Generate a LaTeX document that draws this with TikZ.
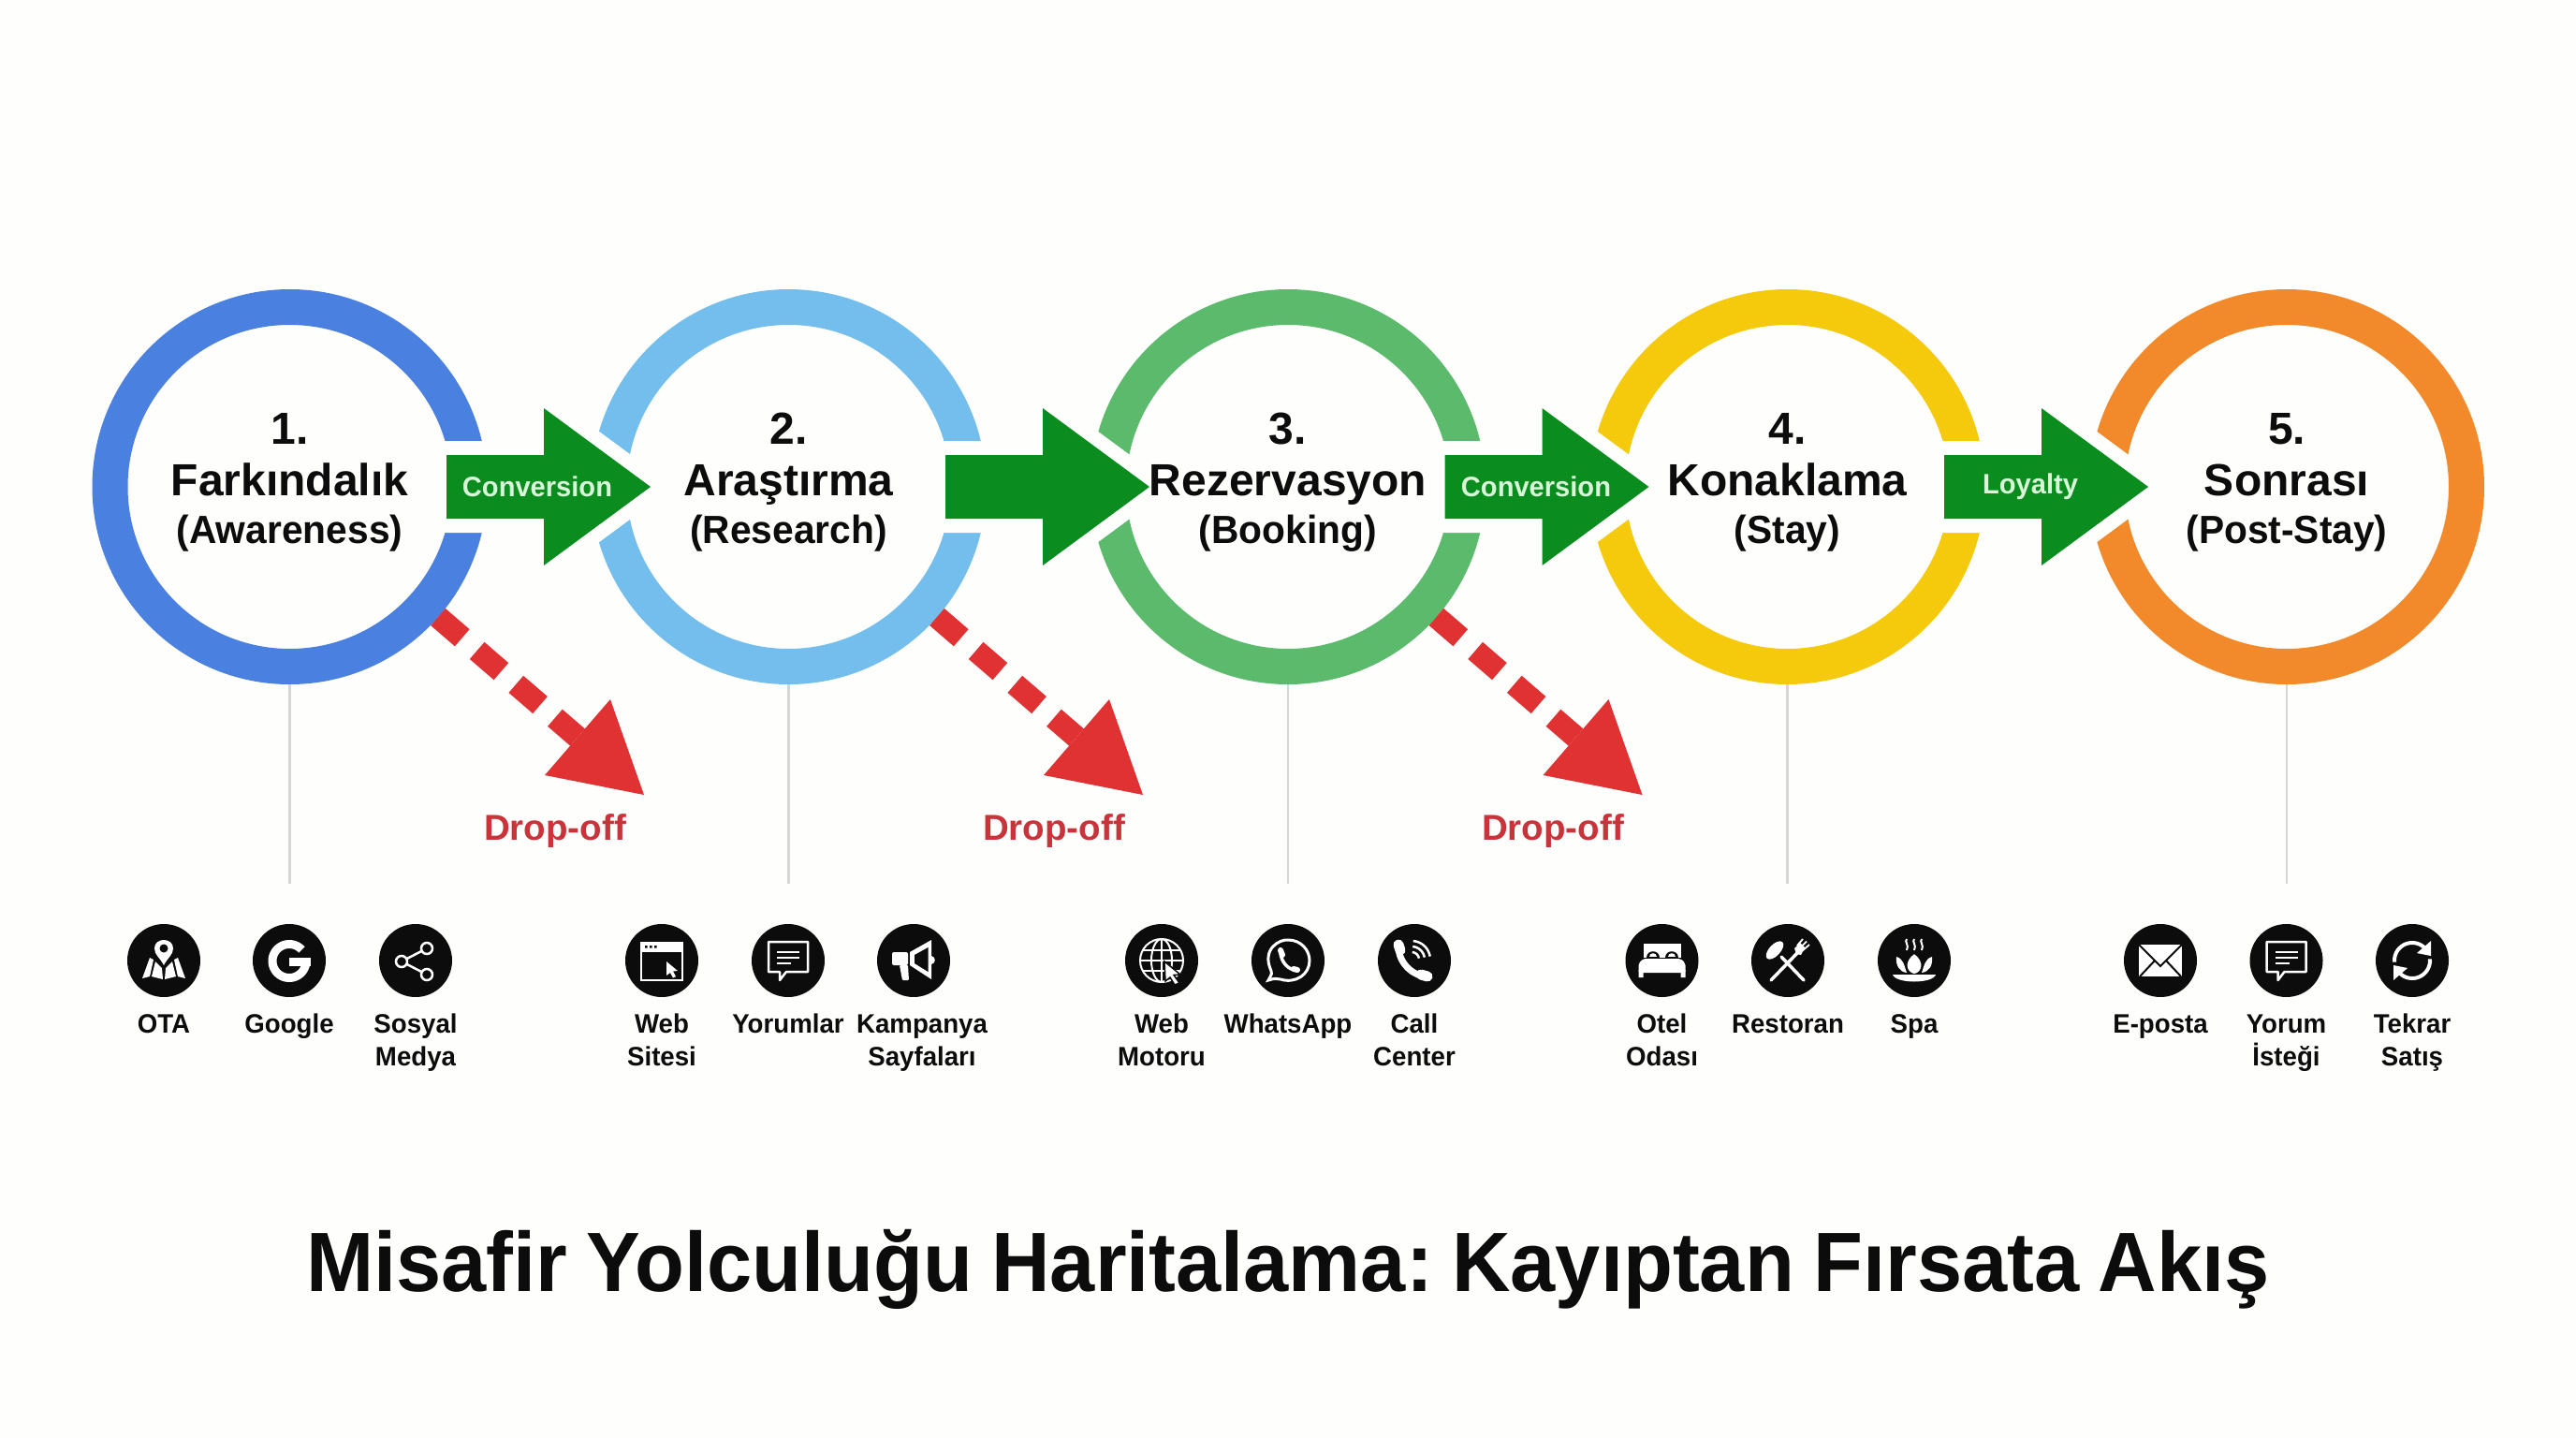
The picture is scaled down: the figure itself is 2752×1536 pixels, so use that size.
\documentclass[tikz,border=0pt]{standalone}
\usepackage{fontspec}
\setmainfont{Liberation Sans}
\newfontfamily\medf[FakeStretch=0.97]{Liberation Sans Bold}
\newfontfamily\titlef[FakeStretch=0.962,WordSpace=0.85]{Liberation Sans Bold}
\usetikzlibrary{calc}
\frenchspacing
\definecolor{pagebg}{HTML}{FEFEFD}
\definecolor{cA}{HTML}{4A80E0}
\definecolor{cB}{HTML}{73BEEC}
\definecolor{cC}{HTML}{5CBA6C}
\definecolor{cD}{HTML}{F5C90C}
\definecolor{cE}{HTML}{F28A2C}
\definecolor{arrowgreen}{HTML}{0A8C1E}
\definecolor{lossred}{HTML}{E03232}
\definecolor{losstext}{HTML}{C8343A}
\definecolor{lightlab}{HTML}{D8F6D8}
\definecolor{stem}{HTML}{D6D6D6}
\definecolor{ink}{HTML}{0C0C0C}
\tikzset{
  ring/.style={circle,draw=#1,line width=38pt,minimum size=384pt,inner sep=0pt,outer sep=0pt},
  stagetext/.style={align=center,inner sep=0pt,anchor=north,text=ink,font=\bfseries\fontsize{48}{55}\selectfont},
  fatarrow/.style={fill=arrowgreen,draw=pagebg,line width=30pt,line join=round},
  fatfill/.style={fill=arrowgreen},
  arrowlab/.style={inner sep=0pt,text=lightlab,font=\medf\fontsize{30}{34}\selectfont},
  stemline/.style={draw=stem,line width=2.5pt},
  lossline/.style={draw=lossred,line width=24pt,dash pattern=on 34pt off 21pt},
  losshead/.style={fill=lossred},
  losslab/.style={inner sep=0pt,anchor=base,text=losstext,font=\bfseries\fontsize{38.5}{42}\selectfont},
  iconbg/.style={circle,fill=ink,minimum size=78pt,inner sep=0pt,outer sep=0pt},
  iconlab/.style={align=center,inner sep=0pt,anchor=north,text=ink,font=\medf\fontsize{28.5}{35}\selectfont},
  ic/.style={draw=white,line width=2.5pt},
  icf/.style={fill=white},
  titletext/.style={inner sep=0pt,anchor=base,text=ink,font=\titlef\fontsize{90}{100}\selectfont}
}
\newcommand{\stagesub}[1]{{\medf\fontsize{42}{55}\selectfont #1}}
\newcommand{\iconat}[5][]{%
  \node[iconbg] (#2) at (#3,1026) {};
  \begin{scope}[shift={(#2.center)}] #5 \end{scope}
  \node[iconlab,#1] (#2t) at (#3,1078.5) {\strut #4};
}
\newcommand{\chaticon}{%
  \draw[ic,line join=round] (-21,-20) -- (21,-20) -- (21,12) -- (-2,12) -- (-9,21) -- (-9,12) -- (-21,12) -- cycle;
  \draw[ic] (-12,-9) -- (12,-9) (-12,-3) -- (12,-3) (-12,3) -- (3,3);
}
\newcommand{\cutband}[1]{\fill[pagebg] ([shift={(100pt,47pt)}]#1.center) rectangle ([shift={(222pt,-49pt)}]#1.center);}
\newcommand{\arrowshape}[1]{([shift={(167.5pt,34pt)}]#1.center) -- ([shift={(271.5pt,34pt)}]#1.center) -- ([shift={(271.5pt,84pt)}]#1.center) -- ([shift={(385.5pt,0pt)}]#1.center) -- ([shift={(271.5pt,-84pt)}]#1.center) -- ([shift={(271.5pt,-34pt)}]#1.center) -- ([shift={(167.5pt,-34pt)}]#1.center) -- cycle}
\newcommand{\greenarrow}[1]{\path[fatarrow] \arrowshape{#1};\fill[fatfill] \arrowshape{#1};}
\newcommand{\lossarrow}[2]{%
  \coordinate (ls#2) at ([shift={(158.5pt,-139pt)}]#1.center);
  \coordinate (le#2) at ([shift={(307.5pt,-267.5pt)}]#1.center);
  \coordinate (lt#2) at ([shift={(378.5pt,-329pt)}]#1.center);
  \draw[lossline] (ls#2) -- (le#2);
  \fill[losshead] (lt#2) -- ([shift={(342.5pt,-227pt)}]#1.center) -- ([shift={(272.5pt,-308pt)}]#1.center) -- cycle;
}
\begin{document}
\begin{tikzpicture}[x=1pt,y=-1pt]
\useasboundingbox (0,0) rectangle (2752,1536);
\fill[pagebg] (0,0) rectangle (2752,1536);

\node[ring=cA] (s1) at (309.5,520) {};
\node[ring=cB] (s2) at (842.5,520) {};
\node[ring=cC] (s3) at (1376,520) {};
\node[ring=cD] (s4) at (1909.5,520) {};
\node[ring=cE] (s5) at (2443,520) {};

\cutband{s1}\cutband{s2}\cutband{s3}\cutband{s4}
\greenarrow{s1}\greenarrow{s2}\greenarrow{s3}\greenarrow{s4}
\node[arrowlab] (a1) at (574,520) {Conversion};
\node[arrowlab] (a3) at (1641,520) {Conversion};
\node[arrowlab] (a4) at (2169,520) {Loyalty};

\node[stagetext] (t1) at (309.5,435.5) {\strut 1.\\Farkındalık\\[-4pt]\stagesub{(Awareness)}};
\node[stagetext] (t2) at (842.5,435.5) {\strut 2.\\Araştırma\\[-4pt]\stagesub{(Research)}};
\node[stagetext] (t3) at (1376,435.5) {\strut 3.\\Rezervasyon\\[-4pt]\stagesub{(Booking)}};
\node[stagetext] (t4) at (1909.5,435.5) {\strut 4.\\Konaklama\\[-4pt]\stagesub{(Stay)}};
\node[stagetext] (t5) at (2443,435.5) {\strut 5.\\Sonrası\\[-4pt]\stagesub{(Post-Stay)}};

\lossarrow{s1}{1}\lossarrow{s2}{2}\lossarrow{s3}{3}
\node[losslab] (d1) at (593,897) {Drop-off};
\node[losslab] (d2) at (1126,897) {Drop-off};
\node[losslab] (d3) at (1659,897) {Drop-off};

\coordinate (v1) at (309.5,944);
\coordinate (v2) at (842.5,944);
\coordinate (v3) at (1376,944);
\coordinate (v4) at (1909.5,944);
\coordinate (v5) at (2443,944);
\foreach \n in {1,2,3,4,5}{\draw[stemline] ([yshift=-211pt]s\n.center) -- (v\n);}

% --- group 1
\iconat{ota}{175}{OTA}{%
  \fill[icf] (-23,19) -- (-15,-3) -- (-11,-1) -- (-15,17) -- cycle;
  \fill[icf] (-13,17) -- (-9,1) -- (-2,8) -- (-1,20) -- cycle;
  \fill[icf] (23,19) -- (15,-3) -- (11,-1) -- (15,17) -- cycle;
  \fill[icf] (13,17) -- (9,1) -- (2,8) -- (1,20) -- cycle;
  \fill[icf] (0,5) .. controls (-4,-3) and (-10,-6) .. (-10,-13) .. controls (-10,-25) and (10,-25) .. (10,-13) .. controls (10,-6) and (4,-3) .. (0,5) -- cycle;
  \fill[ink] (0,-13) circle[radius=4.5];
}
\iconat{goo}{309}{Google}{%
  \draw[draw=white,line width=9pt] plot[domain=-42:-360,samples=50] ({18*cos(\x)},{0.5+18*sin(\x)});
  \draw[draw=white,line width=9pt] (0,1) -- (22.5,1);
}
\iconat{soc}{444}{Sosyal\\Medya}{%
  \draw[ic] (12,-13) -- (-15,1) -- (12,15);
  \draw[ic,fill=ink] (12,-13) circle[radius=6];
  \draw[ic,fill=ink] (-15,1) circle[radius=6];
  \draw[ic,fill=ink] (12,15) circle[radius=6];
}
% --- group 2
\iconat{web}{707}{Web\\Sitesi}{%
  \draw[ic] (-22,-19) rectangle (22,21);
  \fill[icf] (-22,-20) rectangle (22,-9);
  \fill[ink] (-18,-16) rectangle (-15.5,-13.5) (-13,-16) rectangle (-10.5,-13.5) (-8,-16) rectangle (-5.5,-13.5);
  \fill[icf] (5,1) -- (17,11) -- (12,11.5) -- (15,17) -- (12,18.5) -- (9,13) -- (5,16) -- cycle;
}
\iconat{yor}{842}{Yorumlar}{\chaticon}
\iconat[xshift=9pt]{kam}{976}{Kampanya\\Sayfaları}{%
  \fill[icf,rounded corners=2pt] (-23,-9) rectangle (-6,5);
  \fill[icf,rounded corners=1pt] (-15,5) -- (-6,5) -- (-5,21) -- (-12,21) -- cycle;
  \fill[icf] (-4,-9) -- (19,-22) -- (19,20) -- (-4,5) -- cycle;
  \fill[ink] (1,-6) -- (15.5,-14) -- (15.5,12) -- (1,3) -- cycle;
  \fill[icf] (19,-5) .. controls (24,-4) and (24,3) .. (19,4) -- cycle;
}
% --- group 3
\iconat{mot}{1241}{Web\\Motoru}{%
  \draw[draw=white,line width=2pt] (0,0) circle[radius=23];
  \draw[draw=white,line width=2pt] (0,0) ellipse[x radius=11,y radius=23];
  \draw[draw=white,line width=2pt] (0,-23) -- (0,23) (-23,0) -- (23,0) (-20,-11) -- (20,-11) (-20,11) -- (20,11);
  \fill[icf,draw=ink,line width=1.5pt] (3,1) -- (20,15) -- (13,15.5) -- (19,24) -- (14,26) -- (9,18) -- (4,22) -- cycle;
}
\iconat{wha}{1376}{WhatsApp}{%
  \draw[ic,line width=3pt] (-21,21) .. controls (-17,14) and (-17,13) .. (-18,11) .. controls (-29,-13) and (-8,-23) .. (0,-22) .. controls (14,-22) and (23,-11) .. (23,0) .. controls (23,15) and (8,25) .. (-8,20) .. controls (-12,19) and (-15,19) .. (-21,21) -- cycle;
  \draw[draw=white,line width=3.5pt,line cap=round] (-8,-9) .. controls (-8,1) and (1,11) .. (9,10);
  \draw[draw=white,line width=6pt,line cap=round] (-8,-11) -- (-6,-6) (6,9) -- (10,10);
}
\iconat{cal}{1511}{Call\\Center}{%
  \draw[draw=white,line width=7pt,line cap=round] (-17,-15) .. controls (-17,2) and (-2,17) .. (14,17);
  \draw[draw=white,line width=11pt,line cap=round] (-17,-17) -- (-15,-11) (7,15) -- (14,17);
  \draw[draw=white,line width=2.5pt] plot[domain=-85:-10,samples=12] ({-3+8*cos(\x)},{-1+8*sin(\x)});
  \draw[draw=white,line width=2.5pt] plot[domain=-85:-10,samples=12] ({-3+14*cos(\x)},{-1+14*sin(\x)});
  \draw[draw=white,line width=2.5pt] plot[domain=-85:-10,samples=12] ({-3+20*cos(\x)},{-1+20*sin(\x)});
}
% --- group 4
\iconat{ote}{1775.5}{Otel\\Odası}{%
  \fill[icf] (-20,-18) rectangle (20,-3);
  \fill[ink] (-17,-3) .. controls (-17,-12) and (-3,-12) .. (-3,-3) -- cycle;
  \fill[ink] (3,-3) .. controls (3,-12) and (17,-12) .. (17,-3) -- cycle;
  \fill[icf] (-14,-4) .. controls (-14,-9) and (-6,-9) .. (-6,-4) -- cycle;
  \fill[icf] (6,-4) .. controls (6,-9) and (14,-9) .. (14,-4) -- cycle;
  \fill[icf,rounded corners=2pt] (-25,13) -- (-25,3) -- (-20,-2) -- (20,-2) -- (25,3) -- (25,13) -- cycle;
  \fill[icf] (-25,10) rectangle (-20,18) (20,10) rectangle (25,18);
}
\iconat{res}{1910}{Restoran}{%
  \draw[draw=white,line width=3.5pt,line cap=round] (-7,-4) -- (17,21);
  \fill[icf,rotate around={47:(-14,-11)}] (-14,-11) ellipse[x radius=12,y radius=6];
  \draw[draw=white,line width=3.5pt,line cap=round] (12,-10) -- (-18,21);
  \fill[icf] (7,-13) -- (13,-19) -- (18,-14) -- (14,-6) -- (9,-7) -- cycle;
  \draw[draw=white,line width=1.8pt] (10,-16) -- (16,-23) (13,-13.5) -- (20,-20.5) (15,-10) -- (23,-17);
}
\iconat{spa}{2045}{Spa}{%
  \foreach \sx in {-8,0,8}{\draw[draw=white,line width=2pt] (\sx,-23) .. controls (\sx-3,-20) and (\sx+3,-17) .. (\sx,-11);}
  \fill[icf] (-19,-4) .. controls (-12,-2) and (-11,4) .. (-8,13) .. controls (-16,12) and (-20,5) .. (-19,-4) -- cycle;
  \fill[icf] (19,-4) .. controls (12,-2) and (11,4) .. (8,13) .. controls (16,12) and (20,5) .. (19,-4) -- cycle;
  \draw[draw=ink,fill=white,line width=1.5pt] (0,-8) .. controls (-12,0) and (-10,13) .. (0,15) .. controls (10,13) and (12,0) .. (0,-8) -- cycle;
  \fill[icf] (-23,15) -- (23,15) .. controls (20,25) and (-20,25) .. (-23,15) -- cycle;
}
% --- group 5
\iconat{epo}{2308}{E-posta}{%
  \fill[icf] (-23,-17) rectangle (23,17);
  \draw[draw=ink,line width=2pt] (-23,-17) -- (0,6) -- (23,-17) (-22,17) -- (-6,0) (22,17) -- (6,0);
}
\iconat{ist}{2442.5}{Yorum\\İsteği}{\chaticon}
\iconat{tek}{2577}{Tekrar\\Satış}{%
  \draw[draw=white,line width=4pt] plot[domain=-185:-45,samples=20] ({19*cos(\x)},{19*sin(\x)});
  \draw[draw=white,line width=4pt] plot[domain=-5:135,samples=20] ({19*cos(\x)},{19*sin(\x)});
  \fill[icf] (20,-21) -- (20,-5) -- (5,-8) -- cycle;
  \fill[icf] (-20,21) -- (-20,5) -- (-5,8) -- cycle;
}

\node[titletext] (title) at (1376,1379) {Misafir Yolculuğu Haritalama: Kayıptan Fırsata Akış};
\end{tikzpicture}
\end{document}
